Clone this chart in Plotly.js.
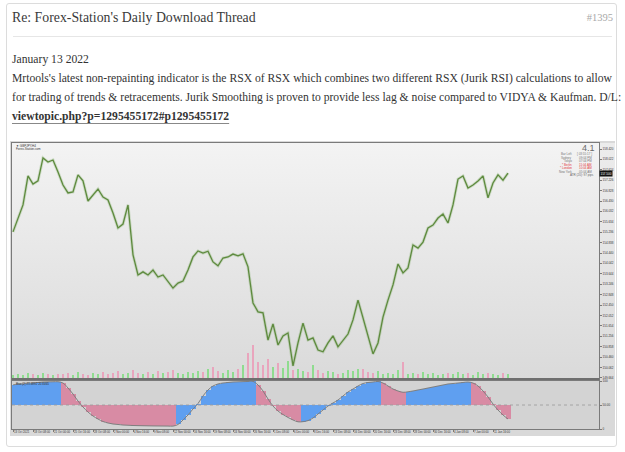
<!DOCTYPE html>
<html>
<head>
<meta charset="utf-8">
<script src="https://cdn.plot.ly/plotly-3.0.1.min.js"></script>
<style>
  html, body { margin: 0; padding: 0; background: #ffffff; }
  body { width: 625px; height: 452px; position: relative; overflow: hidden; font-family: "Liberation Serif", "Times New Roman", serif; color: #333; }
  .card { position: absolute; left: 6px; top: 3px; width: 611px; height: 444px; border: 1px solid #dcdcdc; border-radius: 3px; box-sizing: border-box; }
  .t { position: absolute; white-space: nowrap; }
  #title { left: 12px; top: 9px; font-size: 13.8px; line-height: 18px; color: #3a3a3a; }
  #num { right: 12px; top: 11px; font-size: 10.5px; line-height: 14px; color: #a8a8a8; }
  #rule { position: absolute; left: 13px; top: 36px; width: 599px; height: 1px; background: #e6e6e6; }
  .p { left: 12px; font-size: 11.4px; line-height: 16px; color: #333; }
  #link { font-weight: bold; text-decoration: underline; text-decoration-color: #888; text-underline-offset: 3px; }
  #wrap { position: absolute; left: 10px; top: 141px; width: 605px; height: 295px; background: #d9d9d9; }
  #bgmain { position: absolute; left: 2px; top: 2px; width: 587px; height: 236px; background: linear-gradient(#f3f3f3, #dadada); }
  #bgaxis { position: absolute; left: 589px; top: 2px; width: 16px; height: 236px; background: linear-gradient(#ececec, #dcdcdc); }
  #chart { position: absolute; left: 0; top: 0; width: 605px; height: 300px; }
</style>
</head>
<body>
<div class="card"></div>
<div class="t" id="title">Re: Forex-Station's Daily Download Thread</div>
<div class="t" id="num">#1395</div>
<div id="rule"></div>
<div class="t p" style="top:52px">January 13 2022</div>
<div class="t p" id="line1" style="top:71px">Mrtools's latest non-repainting indicator is the RSX of RSX which combines two different RSX (Jurik RSI) calculations to allow</div>
<div class="t p" style="top:90px">for trading of trends &amp; retracements. Jurik Smoothing is proven to provide less lag &amp; noise compared to VIDYA &amp; Kaufman. D/L:</div>
<div class="t p" style="top:109px"><span id="link">viewtopic.php?p=1295455172#p1295455172</span></div>

<div id="wrap">
  <div id="bgmain"></div>
  <div id="bgaxis"></div>
  <div id="chart"></div>
</div>

<script>
// fit paragraph font so that the first line spans the post width (600px)
(function () {
  const l1 = document.getElementById("line1");
  const w = l1.getBoundingClientRect().width;
  const size = 11.4 * 600 / w;
  document.querySelectorAll(".p").forEach(e => { e.style.fontSize = size.toFixed(2) + "px"; });
})();

// ---- Data (GBPJPY H4, one sample every 4 bars) ----
const symbolLabel = "▼ GBPJPY,H4";
const brokerLabel = "Forex-Station.com";
const closes = [
  155.25, 155.78, 156.28, 157.39, 157.08, 157.20, 158.08, 157.92, 158.00, 157.54,
  157.04, 156.74, 156.78, 157.43, 157.20, 156.43, 156.66, 156.89, 156.58, 156.47,
  155.97, 155.40, 155.55, 156.28, 154.37, 153.60, 153.72, 153.60, 153.79, 153.52,
  153.60, 153.33, 153.10, 153.29, 153.37, 153.79, 154.29, 154.52, 154.44, 154.51,
  154.10, 153.95, 154.25, 154.29, 154.40, 154.33, 154.41, 153.91, 152.53, 152.19,
  152.15, 151.11, 151.73, 150.92, 151.27, 151.38, 150.12, 151.00, 151.76, 151.11,
  151.19, 150.73, 150.66, 151.00, 151.27, 150.85, 151.11, 151.34, 151.88, 152.64,
  151.96, 151.23, 150.58, 151.00, 151.99, 152.64, 153.22, 154.02, 153.68, 153.87,
  154.75, 154.63, 154.86, 155.40, 155.51, 155.78, 155.93, 155.59, 156.28, 157.27,
  157.39, 156.93, 157.04, 157.20, 157.39, 156.55, 157.12, 157.43, 157.23, 157.50
];
const volumes = [
  4200, 5100, 3900, 6200, 4800, 4100, 5900, 5300, 4300, 5000,
  5200, 6100, 4400, 7100, 5000, 4200, 6300, 5200, 7000, 5400,
  6100, 8200, 5300, 6400, 9100, 6200, 5100, 7300, 5500, 8100,
  6300, 7200, 9000, 6400, 5300, 7100, 6200, 8300, 7400, 10200,
  12100, 8300, 6200, 9400, 7300, 10100, 14200, 26300, 34100, 17200,
  14100, 20300, 12200, 16400, 11300, 18100, 9400, 10200, 8300, 7100,
  14000, 9100, 6300, 8200, 7100, 5300, 6200, 9100, 8200, 10000,
  10200, 7300, 6100, 8400, 5200, 6300, 5100, 9200, 17000, 5300,
  6200, 5100, 7300, 5200, 6100, 4300, 5200, 6400, 5100, 7200,
  5300, 6200, 4100, 7300, 5200, 6100, 5400, 4200, 6300, 5100
];
const rsxOfRsx = [
  91.7, 93.8, 93.8, 95.8, 95.8, 96.9, 97.9, 98.2, 98.4, 98.5,
  95.8, 85.4, 72.9, 58.3, 45.8, 35.4, 27.1, 20.8, 15.6, 12.5,
  10.4, 9.4, 8.3, 7.8, 7.3, 7.0, 6.8, 6.6, 6.4, 6.3,
  6.2, 6.1, 6.0, 9.4, 18.8, 29.2, 41.7, 53.1, 68.8, 81.3,
  89.6, 93.8, 95.8, 96.9, 97.9, 98.3, 98.7, 99.0, 99.2, 91.7,
  79.2, 62.5, 47.9, 37.5, 30.2, 24.0, 18.8, 15.0, 15.3, 17.5,
  22.9, 31.3, 39.6, 47.9, 54.2, 60.4, 68.8, 77.1, 83.3, 89.6,
  94.8, 96.9, 97.9, 99.0, 95.8, 89.6, 83.3, 79.2, 76.5, 77.5,
  79.2, 81.3, 83.3, 85.4, 87.5, 89.6, 91.7, 93.8, 94.8, 95.8,
  96.9, 97.9, 95.8, 89.6, 79.2, 66.7, 52.1, 39.6, 29.2, 20.8
];
const rsxLevel = 50;
const timeLabels = [
  "13 Oct 2021", "18 Oct 08:00", "21 Oct 00:00", "25 Oct 16:00", "28 Oct 08:00",
  "2 Nov 00:00", "4 Nov 16:00", "9 Nov 08:00", "12 Nov 00:00", "16 Nov 16:00",
  "19 Nov 08:00", "24 Nov 00:00", "26 Nov 16:00", "1 Dec 08:00", "6 Dec 00:00",
  "8 Dec 16:00", "13 Dec 08:00", "16 Dec 00:00", "20 Dec 16:00", "23 Dec 08:00",
  "28 Dec 00:00", "30 Dec 16:00", "4 Jan 08:00", "7 Jan 00:00", "11 Jan 16:00"
];
const infoNames = ["Bar Left", "Sydney", "Tokyo", "* Berlin", "* London", "New York"];
const infoValues = ["[ 03:55:17 ]", "09:04 PM", "07:04 PM", "11:04 AM", "10:04 AM", "05:04 AM"];
const infoRed = [false, false, false, true, true, false];
const infoFooter = "ATR (20): 97 pips";
const versionLabel = "4.1";
const rsxHeader = "Rsx (2) 21.4892 20.8465";
const rsxTickVals = [0, 50, 100];
const rsxTickText = ["0", "50.00", "100"];

// ---- Geometry helpers ----
const BARS_PER_SAMPLE = 4;
const BARS_PER_LABEL = 16;
const xs = closes.map((_, i) => i * BARS_PER_SAMPLE);
const labelVals = timeLabels.map((_, i) => i * BARS_PER_LABEL);

const volColors = closes.map((c, i) => (i === 0 || c >= closes[i - 1]) ? "#8fdc8f" : "#e9a5bd");
const rsxColors = rsxOfRsx.map((v, i) => (i === 0 || v >= rsxOfRsx[i - 1]) ? "#5f9ff0" : "#d88ba4");

const traces = [
  { type: "bar", x: xs, y: volumes, xaxis: "x", yaxis: "y2", width: 1.6,
    marker: { color: volColors, line: { width: 0 } }, hoverinfo: "skip" },
  { type: "scatter", mode: "lines", x: xs, y: closes, xaxis: "x", yaxis: "y",
    line: { color: "rgba(120,170,95,0.28)", width: 3 }, hoverinfo: "skip" },
  { type: "scatter", mode: "lines", x: xs, y: closes, xaxis: "x", yaxis: "y",
    line: { color: "#5e8a3e", width: 1.3 } },
  { type: "bar", x: xs, y: rsxOfRsx.map(v => v - rsxLevel), base: rsxLevel,
    xaxis: "x2", yaxis: "y3", width: BARS_PER_SAMPLE,
    marker: { color: rsxColors, line: { width: 0 } } },
  { type: "scatter", mode: "lines", x: xs, y: rsxOfRsx, xaxis: "x2", yaxis: "y3",
    line: { color: "#7f7f7f", width: 1, shape: "spline" } }
];

const plotW = 587, plotH = 286;       // plot area in px (page x 12..599, y 143..429)
const px = x => (x - 12) / plotW;
const py = y => (429 - y) / plotH;
const tiny = { family: "Liberation Sans, Arial, sans-serif", size: 3, color: "#333" };

const annotations = [
  { text: symbolLabel, x: px(14), y: py(146), xanchor: "left", yanchor: "middle", font: tiny },
  { text: brokerLabel, x: px(14), y: py(149.5), xanchor: "left", yanchor: "middle", font: tiny },
  { text: versionLabel, x: px(597), y: py(148), xanchor: "right", yanchor: "middle",
    font: { family: "Liberation Sans, Arial, sans-serif", size: 9, color: "#6a6a6a" } },
  { text: infoFooter, x: px(596), y: py(175), xanchor: "right", yanchor: "middle", font: Object.assign({}, tiny, { color: "#666" }) },
  { text: rsxHeader, x: px(14), y: py(383.5), xanchor: "left", yanchor: "middle", font: tiny },
  { text: closes[closes.length - 1].toFixed(3), x: 1, y: closes[closes.length - 1], xref: "paper", yref: "y",
    xanchor: "left", yanchor: "middle", bgcolor: "#111", borderpad: 0.5,
    font: { family: "Liberation Sans, Arial, sans-serif", size: 3, color: "#fff" } }
];
infoNames.forEach((n, i) => {
  const yy = py(154 + i * 3.5);
  const col = infoRed[i] ? "#e23b3b" : "#777";
  annotations.push({ text: n, x: px(574), y: yy, xanchor: "right", yanchor: "middle", font: Object.assign({}, tiny, { color: col }) });
  annotations.push({ text: infoValues[i], x: px(594), y: yy, xanchor: "right", yanchor: "middle", font: Object.assign({}, tiny, { color: col }) });
});
annotations.forEach(a => { if (!a.xref) { a.xref = "paper"; a.yref = "paper"; } a.showarrow = false; });

const mainDomain = [(429 - 379) / plotH, 1];
const rsxDomain = [0, (429 - 381) / plotH];
const xRange = [-0.8, 468.8];

const layout = {
  width: 605, height: 300,
  margin: { l: 2, r: 16, t: 2, b: 12, pad: 0 },
  paper_bgcolor: "rgba(0,0,0,0)", plot_bgcolor: "rgba(0,0,0,0)",
  showlegend: false, bargap: 0, barmode: "overlay",
  font: tiny,
  xaxis: { domain: [0, 1], anchor: "y", range: xRange, showticklabels: false, showgrid: false, zeroline: false,
    showline: true, mirror: true, linecolor: "#7a7a7a", linewidth: 1, ticks: "" },
  yaxis: { domain: mainDomain, anchor: "x", side: "right", range: [149.62, 158.65], tick0: 158.42, dtick: 0.398,
    tickformat: ".3f", showgrid: false, zeroline: false, showline: true, mirror: true, linecolor: "#7a7a7a",
    linewidth: 1, ticks: "outside", ticklen: 2, tickcolor: "#7a7a7a", tickfont: tiny },
  yaxis2: { overlaying: "y", range: [0, 236000], visible: false, fixedrange: true },
  xaxis2: { domain: [0, 1], anchor: "y3", matches: "x", range: xRange, tickmode: "array", tickvals: labelVals, ticktext: timeLabels,
    tickangle: 0, ticklabelposition: "outside right", tickfont: Object.assign({}, tiny, { size: 2.8 }), ticks: "outside", ticklen: 2, tickcolor: "#7a7a7a",
    showgrid: false, zeroline: false, showline: true, mirror: true, linecolor: "#7a7a7a", linewidth: 1 },
  yaxis3: { domain: rsxDomain, anchor: "x2", side: "right", range: [0, 100], tickmode: "array", tickvals: rsxTickVals,
    ticktext: rsxTickText, tickfont: tiny, ticks: "outside", ticklen: 2, tickcolor: "#7a7a7a",
    showgrid: false, zeroline: false, showline: true, mirror: true, linecolor: "#7a7a7a", linewidth: 1 },
  shapes: [
    { type: "rect", layer: "below", xref: "x2 domain", yref: "y3 domain", x0: 0, x1: 1, y0: 0, y1: 1,
      fillcolor: "#d3d3d3", line: { width: 0 } },
    { type: "line", layer: "above", xref: "x2 domain", yref: "y3", x0: 0, x1: 1, y0: rsxLevel, y1: rsxLevel,
      line: { color: "#9a9a9a", width: 0.8, dash: "dot" } },
    { type: "line", xref: "paper", yref: "paper", x0: 0, x1: 1, y0: mainDomain[0], y1: mainDomain[0],
      line: { color: "#6f6f6f", width: 2 } }
  ],
  annotations: annotations
};

Plotly.newPlot("chart", traces, layout, { staticPlot: true, displayModeBar: false });
</script>
</body>
</html>
